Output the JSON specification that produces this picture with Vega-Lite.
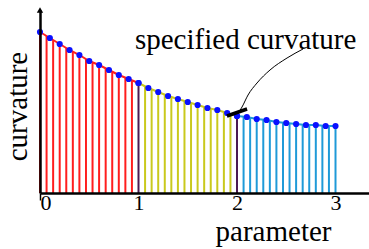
{
  "$schema": "https://vega.github.io/schema/vega-lite/v6.json",
  "width": 329,
  "height": 183,
  "autosize": {"type": "none"},
  "padding": {"left": 40, "top": 10, "right": 0, "bottom": 56},
  "background": "white",
  "config": {"view": {"stroke": null}},
  "datasets": {
    "stems": [
      {"p": 0, "c": 1.61, "seg": "a"}, {"p": 0.0667, "c": 1.57, "seg": "a"}, {"p": 0.1333, "c": 1.53, "seg": "a"},
      {"p": 0.2, "c": 1.49, "seg": "a"}, {"p": 0.2667, "c": 1.45, "seg": "a"}, {"p": 0.3333, "c": 1.41, "seg": "a"},
      {"p": 0.4, "c": 1.38, "seg": "a"}, {"p": 0.4667, "c": 1.34, "seg": "a"}, {"p": 0.5333, "c": 1.31, "seg": "a"},
      {"p": 0.6, "c": 1.28, "seg": "a"}, {"p": 0.6667, "c": 1.25, "seg": "a"}, {"p": 0.7333, "c": 1.21, "seg": "a"},
      {"p": 0.8, "c": 1.18, "seg": "a"}, {"p": 0.8667, "c": 1.15, "seg": "a"}, {"p": 0.9333, "c": 1.13, "seg": "a"},
      {"p": 1.0, "c": 1.10, "seg": "k"},
      {"p": 1.0667, "c": 1.07, "seg": "b"}, {"p": 1.1333, "c": 1.04, "seg": "b"}, {"p": 1.2, "c": 1.01, "seg": "b"},
      {"p": 1.2667, "c": 0.98, "seg": "b"}, {"p": 1.3333, "c": 0.96, "seg": "b"}, {"p": 1.4, "c": 0.94, "seg": "b"},
      {"p": 1.4667, "c": 0.92, "seg": "b"}, {"p": 1.5333, "c": 0.90, "seg": "b"}, {"p": 1.6, "c": 0.88, "seg": "b"},
      {"p": 1.6667, "c": 0.86, "seg": "b"}, {"p": 1.7333, "c": 0.84, "seg": "b"}, {"p": 1.8, "c": 0.83, "seg": "b"},
      {"p": 1.8667, "c": 0.81, "seg": "b"}, {"p": 1.9333, "c": 0.79, "seg": "b"},
      {"p": 2.0, "c": 0.77, "seg": "k"},
      {"p": 2.0667, "c": 0.765, "seg": "c"}, {"p": 2.1333, "c": 0.75, "seg": "c"}, {"p": 2.2, "c": 0.74, "seg": "c"},
      {"p": 2.2667, "c": 0.735, "seg": "c"}, {"p": 2.3333, "c": 0.725, "seg": "c"}, {"p": 2.4, "c": 0.71, "seg": "c"},
      {"p": 2.4667, "c": 0.705, "seg": "c"}, {"p": 2.5333, "c": 0.695, "seg": "c"}, {"p": 2.6, "c": 0.69, "seg": "c"},
      {"p": 2.6667, "c": 0.685, "seg": "c"}, {"p": 2.7333, "c": 0.68, "seg": "c"}, {"p": 2.8, "c": 0.68, "seg": "c"},
      {"p": 2.8667, "c": 0.675, "seg": "c"}, {"p": 2.9333, "c": 0.67, "seg": "c"}, {"p": 3.0, "c": 0.67, "seg": "c"}
    ],
    "curve": [
      {"p": 0, "c": 1.61, "seg": "a"}, {"p": 0.1, "c": 1.55, "seg": "a"}, {"p": 0.2, "c": 1.49, "seg": "a"},
      {"p": 0.3, "c": 1.43, "seg": "a"}, {"p": 0.4, "c": 1.38, "seg": "a"}, {"p": 0.5, "c": 1.32, "seg": "a"},
      {"p": 0.6, "c": 1.28, "seg": "a"}, {"p": 0.7, "c": 1.23, "seg": "a"}, {"p": 0.8, "c": 1.18, "seg": "a"},
      {"p": 0.9, "c": 1.14, "seg": "a"}, {"p": 1.0, "c": 1.10, "seg": "a"},
      {"p": 1.0, "c": 1.10, "seg": "b"}, {"p": 1.1, "c": 1.05, "seg": "b"}, {"p": 1.2, "c": 1.01, "seg": "b"},
      {"p": 1.3, "c": 0.97, "seg": "b"}, {"p": 1.4, "c": 0.94, "seg": "b"}, {"p": 1.5, "c": 0.91, "seg": "b"},
      {"p": 1.6, "c": 0.88, "seg": "b"}, {"p": 1.7, "c": 0.85, "seg": "b"}, {"p": 1.8, "c": 0.83, "seg": "b"},
      {"p": 1.9, "c": 0.80, "seg": "b"}, {"p": 2.0, "c": 0.77, "seg": "b"},
      {"p": 2.0, "c": 0.77, "seg": "c"}, {"p": 2.1, "c": 0.76, "seg": "c"}, {"p": 2.2, "c": 0.74, "seg": "c"},
      {"p": 2.3, "c": 0.73, "seg": "c"}, {"p": 2.4, "c": 0.71, "seg": "c"}, {"p": 2.5, "c": 0.70, "seg": "c"},
      {"p": 2.6, "c": 0.69, "seg": "c"}, {"p": 2.7, "c": 0.68, "seg": "c"}, {"p": 2.8, "c": 0.68, "seg": "c"},
      {"p": 2.9, "c": 0.67, "seg": "c"}, {"p": 3.0, "c": 0.67, "seg": "c"}
    ],
    "arrow": [
      {"p": 2.67, "c": 1.44, "o": 1}, {"p": 2.508, "c": 1.35, "o": 2}, {"p": 2.335, "c": 1.23, "o": 3},
      {"p": 2.203, "c": 1.10, "o": 4}, {"p": 2.112, "c": 0.98, "o": 5}, {"p": 2.051, "c": 0.86, "o": 6},
      {"p": 2.02, "c": 0.81, "o": 7}
    ],
    "tangent": [
      {"p": 1.898, "c": 0.77}, {"p": 2.102, "c": 0.84}
    ],
    "label": [{"p": 0.964, "c": 1.44, "t": "specified curvature"}],
    "ytip": [{"p": 0, "c": 1.83}]
  },
  "layer": [
    {
      "data": {"name": "stems"},
      "mark": {"type": "rule", "strokeWidth": 2},
      "encoding": {
        "x": {
          "field": "p", "type": "quantitative",
          "scale": {"domain": [0, 3.34], "nice": false, "zero": false},
          "axis": {
            "values": [0, 1, 2, 3],
            "format": "d",
            "domainColor": "black", "domainWidth": 2.5,
            "tickColor": {"expr": "datum.value === 0 ? 'black' : 'transparent'"},
            "tickSize": 7, "tickWidth": 1.5,
            "labelFont": "Liberation Serif", "labelFontSize": 22, "labelColor": "black",
            "labelPadding": -8,
            "labelAlign": {"expr": "datum.value === 0 ? 'left' : 'center'"},
            "labelFlush": false,
            "grid": false, "zindex": 2,
            "title": "parameter",
            "titleFont": "Liberation Serif", "titleFontSize": 29, "titleFontWeight": "normal",
            "titleColor": "black", "titleX": 233, "titleY": 47,
            "titleAlign": "center", "titleBaseline": "alphabetic"
          }
        },
        "y": {
          "field": "c", "type": "quantitative",
          "scale": {"domain": [0, 1.83], "nice": false},
          "axis": {
            "domainColor": "black", "domainWidth": 2.5,
            "ticks": false, "labels": false, "grid": false, "zindex": 2,
            "title": "curvature",
            "titleFont": "Liberation Serif", "titleFontSize": 29, "titleFontWeight": "normal",
            "titleColor": "black", "titleAngle": -90, "titleX": -14, "titleY": 96,
            "titleAlign": "center", "titleBaseline": "alphabetic"
          }
        },
        "y2": {"datum": 0},
        "color": {
          "field": "seg", "type": "nominal", "legend": null,
          "scale": {"domain": ["a", "b", "c", "k"], "range": ["#ff1e1e", "#c9c91c", "#1f9ad8", "#4b1a52"]}
        }
      }
    },
    {
      "data": {"name": "curve"},
      "mark": {"type": "line", "strokeWidth": 2},
      "encoding": {
        "x": {"field": "p", "type": "quantitative"},
        "y": {"field": "c", "type": "quantitative"},
        "color": {"field": "seg", "type": "nominal", "legend": null},
        "detail": {"field": "seg"}
      }
    },
    {
      "data": {"name": "curve"},
      "mark": {"type": "point", "filled": true, "shape": "circle", "size": 38, "color": "#0a10ff", "opacity": 1},
      "encoding": {
        "x": {"field": "p", "type": "quantitative"},
        "y": {"field": "c", "type": "quantitative"}
      }
    },
    {
      "data": {"name": "arrow"},
      "mark": {"type": "line", "color": "black", "strokeWidth": 1, "interpolate": "monotone"},
      "encoding": {
        "x": {"field": "p", "type": "quantitative"},
        "y": {"field": "c", "type": "quantitative"},
        "order": {"field": "o"}
      }
    },
    {
      "data": {"name": "tangent"},
      "mark": {"type": "line", "color": "black", "strokeWidth": 3.5},
      "encoding": {
        "x": {"field": "p", "type": "quantitative"},
        "y": {"field": "c", "type": "quantitative"}
      }
    },
    {
      "data": {"name": "label"},
      "mark": {"type": "text", "font": "Liberation Serif", "fontSize": 29, "align": "left", "baseline": "alphabetic", "color": "black"},
      "encoding": {
        "x": {"field": "p", "type": "quantitative"},
        "y": {"field": "c", "type": "quantitative"},
        "text": {"field": "t"}
      }
    },
    {
      "data": {"name": "ytip"},
      "mark": {"type": "point", "shape": "triangle-up", "filled": true, "color": "black", "size": 40, "opacity": 1},
      "encoding": {
        "x": {"field": "p", "type": "quantitative"},
        "y": {"field": "c", "type": "quantitative"}
      }
    }
  ]
}
